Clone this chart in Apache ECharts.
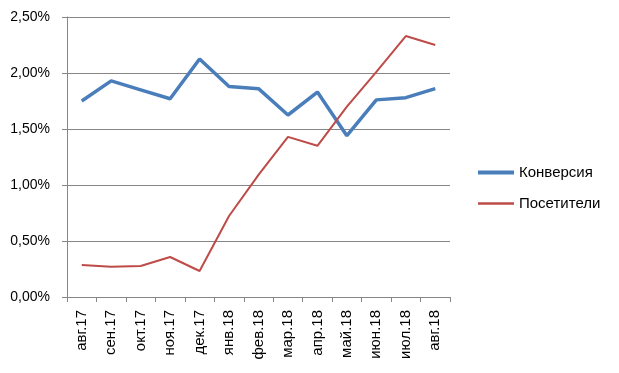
<!DOCTYPE html>
<html><head><meta charset="utf-8">
<script src="https://cdn.jsdelivr.net/npm/echarts@6/dist/echarts.min.js"></script>
<style>html,body{margin:0;padding:0;background:#fff}#c{width:619px;height:373px}</style>
</head><body><div id="c"></div>
<script>
const categories = ['авг.17','сен.17','окт.17','ноя.17','дек.17','янв.18','фев.18','мар.18','апр.18','май.18','июн.18','июл.18','авг.18'];
const conversion = [1.75,1.93,1.85,1.77,2.125,1.88,1.86,1.625,1.83,1.44,1.76,1.78,1.86];
const visitors = [0.286,0.27,0.277,0.357,0.232,0.723,1.09,1.43,1.35,1.70,2.01,2.33,2.25];
const yTicks = [0,0.5,1,1.5,2,2.5];
const font = '"Liberation Sans", Arial, sans-serif';
const chart = echarts.init(document.getElementById('c'), null, {renderer:'canvas'});
chart.setOption({
  animation:false,
  textStyle:{fontFamily:font},
  grid:{left:67,right:169,top:17,bottom:76,containLabel:false},
  legend:{
    orient:'vertical', left:471, top:160, itemWidth:36, itemHeight:14, itemGap:16,
    itemStyle:{opacity:0},
    textStyle:{fontSize:15,color:'#000',fontFamily:font},
    data:[{name:'Конверсия',lineStyle:{width:4}},{name:'Посетители',lineStyle:{width:2.5}}]
  },
  xAxis:{
    type:'category', data:categories, boundaryGap:true,
    axisLine:{lineStyle:{color:'#868686',width:1}},
    axisTick:{show:true,length:5,interval:0,lineStyle:{color:'#868686'}},
    axisLabel:{rotate:90,interval:0,fontSize:15,color:'#000',margin:13,fontFamily:font}
  },
  yAxis:{
    type:'value', min:0, max:2.5, interval:0.5,
    axisLine:{show:true,lineStyle:{color:'#868686'}},
    axisTick:{show:true,length:5,lineStyle:{color:'#868686'}},
    splitLine:{lineStyle:{color:'#868686',width:1}},
    axisLabel:{fontSize:14,color:'#000',margin:17,fontFamily:font,
      formatter:v=>v.toFixed(2).replace('.',',')+'%'}
  },
  series:[
    {name:'Конверсия',type:'line',data:conversion,symbol:'none',
      lineStyle:{color:'#4a7ebb',width:3.5},itemStyle:{color:'#4a7ebb'}},
    {name:'Посетители',type:'line',data:visitors,symbol:'none',
      lineStyle:{color:'#be4b48',width:2},itemStyle:{color:'#be4b48'}}
  ]
});
</script></body></html>
